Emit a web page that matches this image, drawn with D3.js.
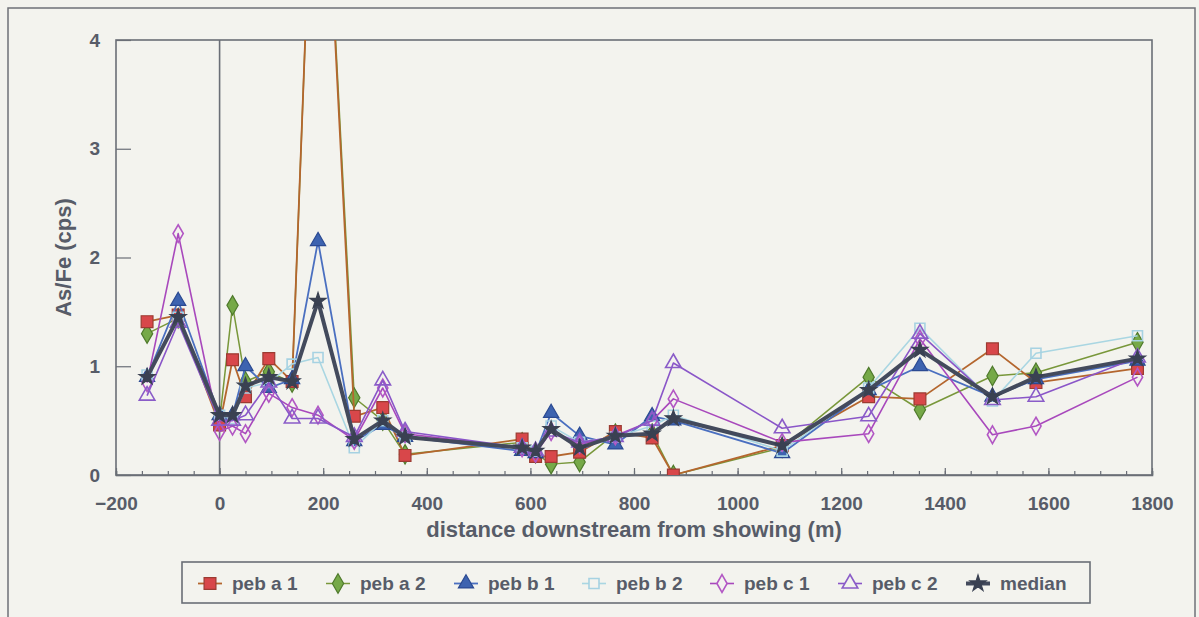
<!DOCTYPE html>
<html>
<head>
<meta charset="utf-8">
<script src="https://cdn.jsdelivr.net/npm/d3@7/dist/d3.min.js"></script>
<style>
  html, body { margin: 0; padding: 0; background: #f3f3ee; }
  svg { display: block; }
  text { font-family: "Liberation Sans", Arial, sans-serif; font-weight: bold; fill: #575c68; }
</style>
</head>
<body>
<svg id="chart" width="1199" height="617"></svg>
<script>
// Sample positions along the stream (m from the showing)
const distance = [-140, -80, 0, 25, 50, 95, 140, 190, 260, 315, 358, 584, 610, 640, 695, 764, 835, 876, 1086, 1253, 1352, 1492, 1576, 1772];

// As/Fe ratios (cps) per pebble set
const pebA1 = [1.41, 1.47, 0.46, 1.06, 0.72, 1.07, 0.86, 7.1, 0.54, 0.62, 0.18, 0.33, 0.17, 0.17, 0.21, 0.40, 0.34, 0.00, 0.27, 0.72, 0.70, 1.16, 0.85, 0.98];
const pebA2 = [1.30, 1.44, 0.50, 1.56, 0.86, 0.95, 0.85, 7.1, 0.71, 0.50, 0.19, 0.30, 0.20, 0.10, 0.12, 0.38, 0.38, 0.00, 0.25, 0.90, 0.60, 0.91, 0.94, 1.22];
const pebB1 = [0.90, 1.60, 0.55, 0.55, 1.00, 0.80, 0.88, 2.15, 0.31, 0.46, 0.35, 0.22, 0.20, 0.57, 0.36, 0.28, 0.54, 0.50, 0.20, 0.78, 1.00, 0.72, 0.88, 1.05];
const pebB2 = [0.92, 1.45, 0.55, 0.52, 0.80, 0.85, 1.02, 1.08, 0.25, 0.50, 0.35, 0.25, 0.22, 0.45, 0.30, 0.35, 0.45, 0.55, 0.22, 0.80, 1.35, 0.68, 1.12, 1.28];
const pebC1 = [0.85, 2.22, 0.40, 0.45, 0.38, 0.75, 0.62, 0.55, 0.32, 0.80, 0.38, 0.25, 0.20, 0.40, 0.28, 0.36, 0.50, 0.70, 0.30, 0.38, 1.25, 0.37, 0.45, 0.90];
const pebC2 = [0.73, 1.40, 0.50, 0.50, 0.55, 0.85, 0.52, 0.52, 0.35, 0.87, 0.40, 0.25, 0.22, 0.40, 0.30, 0.35, 0.50, 1.03, 0.43, 0.54, 1.30, 0.69, 0.72, 1.08];
const medianVals = [0.90, 1.45, 0.55, 0.55, 0.82, 0.90, 0.86, 1.60, 0.33, 0.50, 0.35, 0.25, 0.22, 0.42, 0.25, 0.36, 0.38, 0.52, 0.27, 0.78, 1.15, 0.72, 0.90, 1.07];

const seriesNames = ["peb a 1", "peb a 2", "peb b 1", "peb b 2", "peb c 1", "peb c 2", "median"];

// Axis ticks
const xTicks = [-200, 0, 200, 400, 600, 800, 1000, 1200, 1400, 1600, 1800];
const xMinorTicks = d3.range(-200, 1801, 50);
const yTicks = [0, 1, 2, 3, 4];

const series = [
  { name: seriesNames[0], values: pebA1, line: "#b4662e", lw: 1.8, sym: d3.symbolSquare, size: 140, fill: "#d8474a", stroke: "#9c3b32", z: 1 },
  { name: seriesNames[1], values: pebA2, line: "#78973a", lw: 1.5, sym: d3.symbolDiamond, size: 110, fill: "#76a948", stroke: "#4f7a2c", z: 0 },
  { name: seriesNames[2], values: pebB1, line: "#4a6fc0", lw: 1.8, sym: d3.symbolTriangle, size: 100, fill: "#3d63b0", stroke: "#2b4a92", z: 2 },
  { name: seriesNames[3], values: pebB2, line: "#a9d6e2", lw: 1.6, sym: d3.symbolSquare, size: 100, fill: "none", stroke: "#a6d2e2", z: 3 },
  { name: seriesNames[4], values: pebC1, line: "#a848bc", lw: 1.6, sym: d3.symbolDiamond, size: 90, fill: "none", stroke: "#b257c4", z: 4 },
  { name: seriesNames[5], values: pebC2, line: "#8a56c8", lw: 1.6, sym: d3.symbolTriangle, size: 105, fill: "none", stroke: "#8a5cc8", z: 5 },
  { name: seriesNames[6], values: medianVals, line: "#434a5c", lw: 4, sym: d3.symbolStar, size: 80, fill: "#3a4152", stroke: "#3a4152", z: 6 }
];

const svg = d3.select("#chart");

const plot = { left: 116, right: 1152, top: 40, bottom: 475 };
const x = d3.scaleLinear().domain([-200, 1800]).range([plot.left, plot.right]);
const y = d3.scaleLinear().domain([0, 4]).range([plot.bottom, plot.top]);

// Outer chart frame
svg.append("rect")
  .attr("x", 8).attr("y", 8).attr("width", 1187).attr("height", 640)
  .attr("fill", "#f3f3ee").attr("stroke", "#6f7278").attr("stroke-width", 1.5);

// Clip so off-scale values run off the top of the plot
svg.append("defs").append("clipPath").attr("id", "plotClip")
  .append("rect")
  .attr("x", plot.left).attr("y", plot.top)
  .attr("width", plot.right - plot.left).attr("height", plot.bottom - plot.top);

// Plot border
svg.append("rect")
  .attr("x", plot.left).attr("y", plot.top)
  .attr("width", plot.right - plot.left).attr("height", plot.bottom - plot.top)
  .attr("fill", "none").attr("stroke", "#6a6e76").attr("stroke-width", 1.6);

// Reference line at the showing (0 m)
svg.append("line")
  .attr("x1", x(0)).attr("x2", x(0))
  .attr("y1", plot.top).attr("y2", plot.bottom)
  .attr("stroke", "#6a6e76").attr("stroke-width", 1.6);

// X axis: minor and major ticks point into the plot
const xAxisMinor = d3.axisBottom(x).tickValues(xMinorTicks).tickSize(-4).tickFormat("");
svg.append("g").attr("transform", `translate(0,${plot.bottom})`).call(xAxisMinor)
  .call(g => g.select(".domain").attr("stroke", "#6a6e76").attr("stroke-width", 1.6))
  .call(g => g.selectAll(".tick line").attr("stroke", "#6a6e76").attr("stroke-width", 1.2));

const xAxis = d3.axisBottom(x).tickValues(xTicks).tickSize(-7).tickFormat(d3.format("d"));
svg.append("g").attr("transform", `translate(0,${plot.bottom})`).call(xAxis)
  .call(g => g.select(".domain").remove())
  .call(g => g.selectAll(".tick line").attr("stroke", "#6a6e76").attr("stroke-width", 1.2))
  .call(g => g.selectAll(".tick text").attr("font-size", 19).attr("dy", "0.35em").attr("y", 28)
    .style("font-family", "'Liberation Sans', Arial, sans-serif").style("font-weight", "bold").attr("fill", "#575c68"));

// Y axis
const yAxis = d3.axisLeft(y).tickValues(yTicks).tickSize(-15).tickFormat(d3.format("d"));
svg.append("g").attr("transform", `translate(${plot.left},0)`).call(yAxis)
  .call(g => g.select(".domain").remove())
  .call(g => g.selectAll(".tick line").attr("stroke", "#6a6e76").attr("stroke-width", 1.2))
  .call(g => g.selectAll(".tick text").attr("font-size", 19).attr("x", -16)
    .style("font-family", "'Liberation Sans', Arial, sans-serif").style("font-weight", "bold").attr("fill", "#575c68"));

// Axis titles
svg.append("text")
  .attr("x", (plot.left + plot.right) / 2).attr("y", 537)
  .attr("text-anchor", "middle").attr("font-size", 22)
  .text("distance downstream from showing (m)");

svg.append("text")
  .attr("transform", `translate(71,${(plot.top + plot.bottom) / 2}) rotate(-90)`)
  .attr("text-anchor", "middle").attr("font-size", 22)
  .text("As/Fe (cps)");

// Series lines, then markers
const lineGen = d3.line().x((d, i) => x(distance[i])).y(d => y(d));
const plotG = svg.append("g").attr("clip-path", "url(#plotClip)");
const drawOrder = series.slice().sort((a, b) => a.z - b.z);

drawOrder.forEach(s => {
  const g = plotG.append("g");
  g.append("path")
    .datum(s.values)
    .attr("d", lineGen)
    .attr("fill", "none")
    .attr("stroke", s.line)
    .attr("stroke-width", s.lw)
    .attr("stroke-linejoin", "round");
  g.selectAll("path.mk")
    .data(s.values)
    .join("path")
    .attr("class", "mk")
    .attr("transform", (d, i) => `translate(${x(distance[i])},${y(d)})`)
    .attr("d", d3.symbol().type(s.sym).size(s.size))
    .attr("fill", s.fill)
    .attr("stroke", s.stroke)
    .attr("stroke-width", s.fill === "none" ? 1.6 : 1.2);
});

// Legend
const legend = { left: 182, top: 562, width: 908, height: 41 };
svg.append("rect")
  .attr("x", legend.left).attr("y", legend.top)
  .attr("width", legend.width).attr("height", legend.height)
  .attr("fill", "#f3f3ee").attr("stroke", "#6a6e76").attr("stroke-width", 1.6);

const legendX = d3.scalePoint().domain(seriesNames).range([210, 978]);
const lg = svg.append("g");
series.forEach(s => {
  const cx = legendX(s.name);
  const cy = legend.top + legend.height / 2 + 1;
  lg.append("line")
    .attr("x1", cx - 12).attr("x2", cx + 12).attr("y1", cy).attr("y2", cy)
    .attr("stroke", s.line).attr("stroke-width", s.lw);
  lg.append("path")
    .attr("transform", `translate(${cx},${cy})`)
    .attr("d", d3.symbol().type(s.sym).size(s.size))
    .attr("fill", s.fill === "none" ? "#f3f3ee" : s.fill)
    .attr("stroke", s.stroke)
    .attr("stroke-width", s.fill === "none" ? 1.6 : 1.2);
  lg.append("text")
    .attr("x", cx + 22).attr("y", cy)
    .attr("dy", "0.35em")
    .attr("font-size", 19)
    .text(s.name);
});
</script>
</body>
</html>
